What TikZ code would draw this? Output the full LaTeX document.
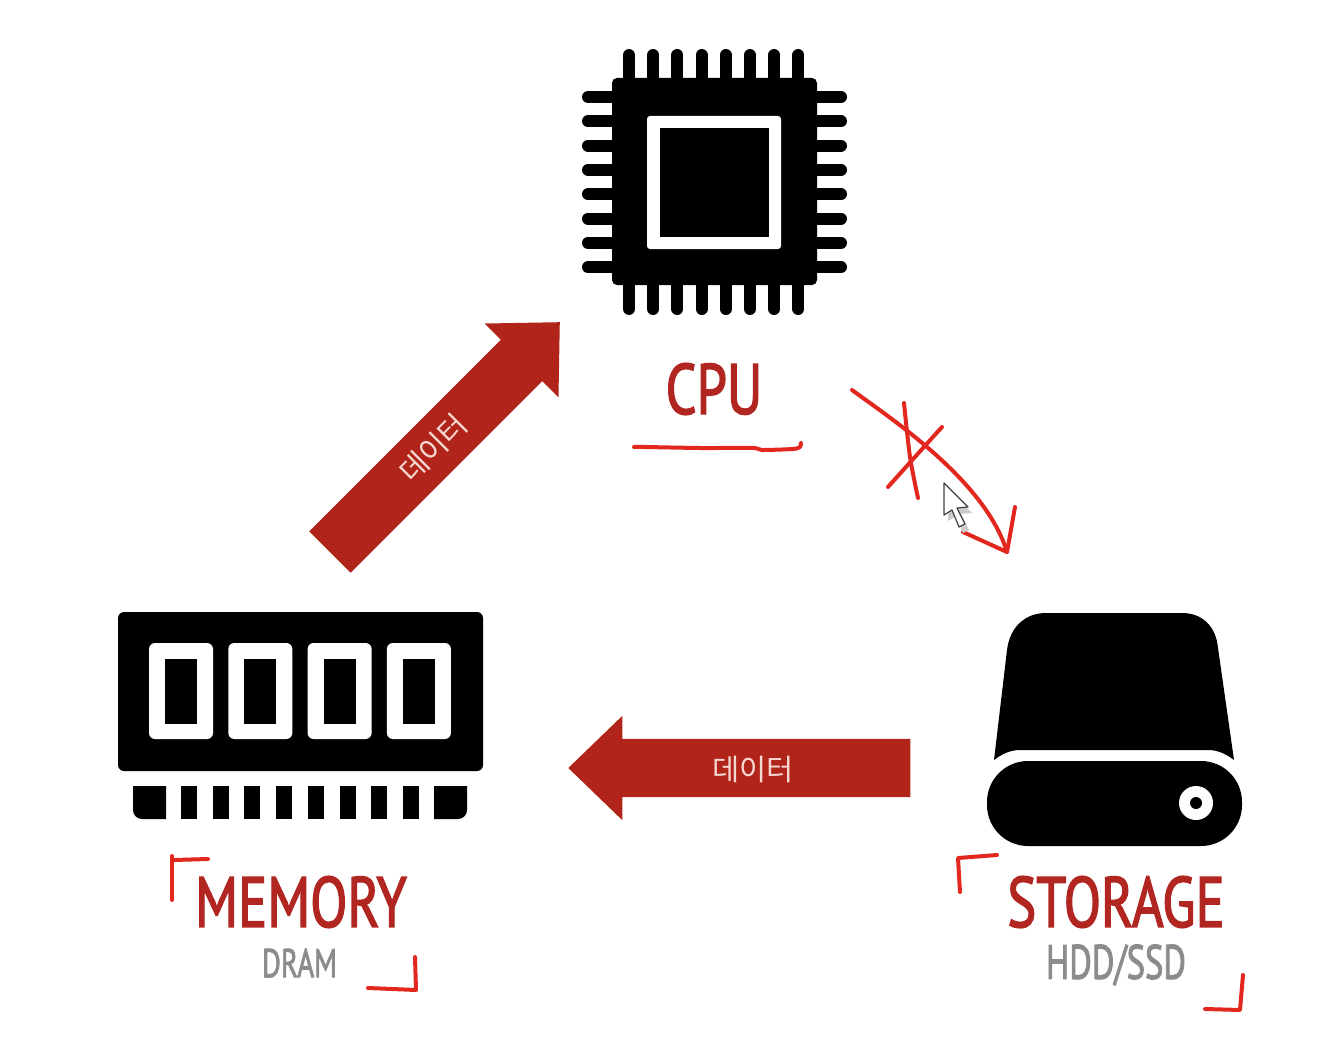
\documentclass[tikz,border=0pt]{standalone}
\usepackage{fontspec}
\setmainfont{PT Sans}
\newfontfamily\korfont{Noto Sans CJK KR}
\newfontfamily\titlefont[FakeBold=2.4]{PT Sans}
\usetikzlibrary{shapes,arrows}
\definecolor{chipblack}{RGB}{0, 0, 0}
\definecolor{arrowred}{RGB}{176, 36, 26}
\definecolor{titlered}{RGB}{178, 38, 34}
\definecolor{subgray}{RGB}{140, 140, 140}
\definecolor{inkred}{RGB}{226, 40, 30}
\definecolor{arrowtext}{RGB}{246, 216, 210}
\tikzset{
    dataarrow/.style={shape=single arrow,fill=arrowred,draw=none,anchor=tip,inner xsep=0pt,inner ysep=29pt,single arrow tip angle=88,single arrow head indent=0pt,single arrow head extend=23pt},
    datatext/.style={text=arrowtext,inner sep=0pt,font=\korfont\fontsize{29.5}{29.5}\selectfont},
    titletext/.style={text=titlered,inner sep=0pt,xscale=0.765,font=\titlefont\fontsize{71}{71}\selectfont},
    subtext/.style={text=subgray,inner sep=0pt,xscale=0.72},
    pinline/.style={chipblack,line width=12pt,line cap=round},
    handink/.style={inkred,line width=4pt,line cap=round,line join=round}
}
\begin{document}
\begin{tikzpicture}[x=1pt,y=-1pt]
    \useasboundingbox (0,0) rectangle (1334,1046);

    % CPU chip
    \foreach \i in {0,...,7} {
        \draw[pinline] ({629+24.2*\i},55) -- ({629+24.2*\i},90);
        \draw[pinline] ({629+24.2*\i},309) -- ({629+24.2*\i},275);
        \draw[pinline] (588,{97+24.3*\i}) -- (625,{97+24.3*\i});
        \draw[pinline] (841,{97+24.3*\i}) -- (805,{97+24.3*\i});
    }
    \fill[chipblack,rounded corners=5pt] (612,78) rectangle (817,285);
    \fill[white,rounded corners=3pt] (647,116) rectangle (781,249);
    \fill[chipblack] (660,128) rectangle (769,237);
    \node[titletext] (cpulabel) at (714,389) {CPU};
    \draw[handink] plot[smooth,tension=0.4] coordinates {(634,447) (645,447) (700,448) (753,448) (762,450) (793,449) (800,447) (801,443)};

    % Memory module
    \fill[chipblack,rounded corners=6pt] (118,612) rectangle (483,771);
    \foreach \i in {0,...,3} {
        \fill[white,rounded corners=6pt] ({149+79.3*\i},643) rectangle ({213+79.3*\i},739);
        \fill[chipblack] ({165+79.3*\i},659) rectangle ({197+79.3*\i},724);
    }
    \foreach \i in {0,...,7} {
        \fill[chipblack] ({181+31.7*\i},786) rectangle ({197+31.7*\i},819);
    }
    \fill[chipblack] (166,786) -- (133,786) [rounded corners=9pt] -- (133,819) [sharp corners] -- (166,819) -- cycle;
    \fill[chipblack] (434,786) -- (467,786) [rounded corners=9pt] -- (467,819) [sharp corners] -- (434,819) -- cycle;
    \node[titletext] (memlabel) at (301,902) {MEMORY};
    \node[subtext,font=\titlefont\fontsize{40}{40}\selectfont] (dramlabel) at (299.5,963) {DRAM};
    \draw[handink] (172,900) -- (172,856);
    \draw[handink] (174,860) -- (208,859);
    \draw[handink] (415,957) -- (416,990) -- (368,988);

    % Storage drive
    \fill[chipblack] (994,760) -- (1007,650) .. controls (1010,626) and (1026,613) .. (1046,613) -- (1182,613) .. controls (1202,613) and (1216,626) .. (1218,648) -- (1234,760) .. controls (1226,754) and (1218,750) .. (1208,750) -- (1020,750) .. controls (1010,750) and (1002,754) .. (994,760) -- cycle;
    \fill[chipblack,rounded corners=41pt] (987,761) rectangle (1242,846);
    \fill[white] (1196,803) circle (17pt);
    \fill[chipblack] (1196,803) circle (6pt);
    \node[titletext] (storelabel) at (1116,902) {STORAGE};
    \node[subtext,font=\titlefont\fontsize{48}{48}\selectfont] (hddlabel) at (1116,965) {HDD/SSD};
    \draw[handink] (960,892) -- (958,858) -- (997,855);
    \draw[handink] (1243,975) -- (1240,1010) -- (1205,1009);

    % Data arrows
    \node[dataarrow,minimum height=325pt,rotate=45] (memtocpu) at (560,322) {};
    \node[datatext,rotate=45] (memtocpulabel) at (433,448) {데이터};
    \node[dataarrow,minimum height=342pt,rotate=180] (storetomem) at (568,768) {};
    \node[datatext] (storetomemlabel) at (753,769) {데이터};

    % Crossed out arrow to storage
    \draw[handink] (852,390) .. controls (890,418) and (985,480) .. (1007,552);
    \draw[handink] (963,532) -- (1007,552) -- (1015,507);
    \draw[handink] plot[smooth] coordinates {(904,403) (910,457) (918,498)};
    \draw[handink] plot[smooth] coordinates {(888,487) (923,448) (942,427)};

    % Mouse cursor
    \fill[black!20] (948,489) -- (972,513) -- (961,514) -- (969,530) -- (963,533) -- (956,516) -- (948,521) -- cycle;
    \draw[fill=white,draw=black!75,line width=1.2pt,line join=round] (944,483) -- (968,507) -- (957,508) -- (965,524) -- (959,527) -- (952,510) -- (944,515) -- cycle;
\end{tikzpicture}
\end{document}
